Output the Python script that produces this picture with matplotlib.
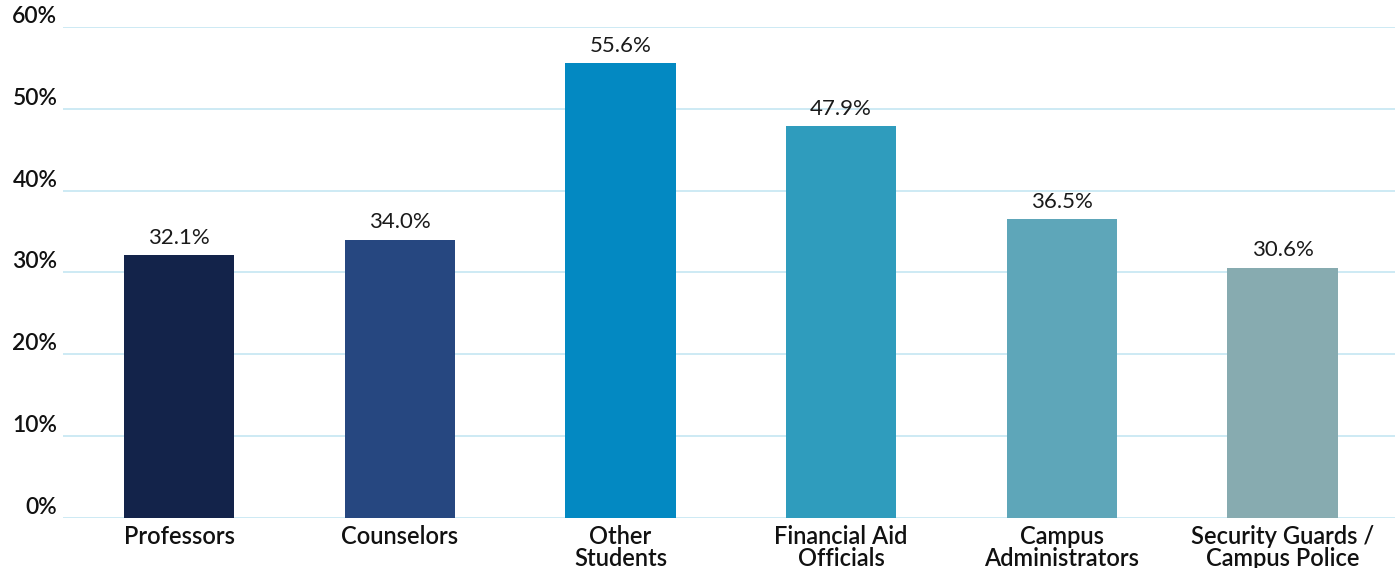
import matplotlib
matplotlib.use("Agg")
import matplotlib.pyplot as plt
from matplotlib.ticker import FixedLocator

categories = ["Professors", "Counselors", "Other\nStudents", "Financial Aid\nOfficials",
              "Campus\nAdministrators", "Security Guards /\nCampus Police"]
values = [32.1, 34.0, 55.6, 47.9, 36.5, 30.6]
colors = ["#13234a", "#264780", "#0389c2", "#2f9cbd", "#5ea6b9", "#87abb0"]
yticks = [0, 10, 20, 30, 40, 50, 60]
ytick_labels = ["0%", "10%", "20%", "30%", "40%", "50%", "60%"]

plt.rcParams['font.family'] = ['Lato', 'DejaVu Sans']

fig = plt.figure(figsize=(13.95, 5.68), dpi=100)
ax = fig.add_axes([0.0452, 0.088, 0.9548, 0.8645])

x = list(range(len(categories)))
bars = ax.bar(x, values, width=0.5, color=colors, zorder=3)
for xi, v in zip(x, values):
    ax.text(xi, v + 0.9, f"{v:.1f}%", ha="center", va="bottom", fontsize=16,
            fontweight="normal", color="#1a1a1a")

ax.set_xlim(-0.526, 5.51)
ax.set_ylim(0, 60)
ax.yaxis.set_major_locator(FixedLocator(yticks))
ax.set_yticklabels(ytick_labels, fontsize=16.5, fontweight="semibold", color="#111111")
ax.set_xticks(x)
ax.set_xticklabels(categories, fontsize=17, fontweight="semibold", color="#111111",
                   linespacing=0.95, va="top")
ax.tick_params(axis="both", length=0)
ax.tick_params(axis="y", pad=4)
ax.tick_params(axis="x", pad=5)
ax.yaxis.grid(True, color="#c5e6f2", linewidth=1.2, zorder=0)
for s in ax.spines.values():
    s.set_visible(False)
for lbl in ax.get_yticklabels():
    lbl.set_verticalalignment("bottom")

fig.savefig("out.png", dpi=100)
